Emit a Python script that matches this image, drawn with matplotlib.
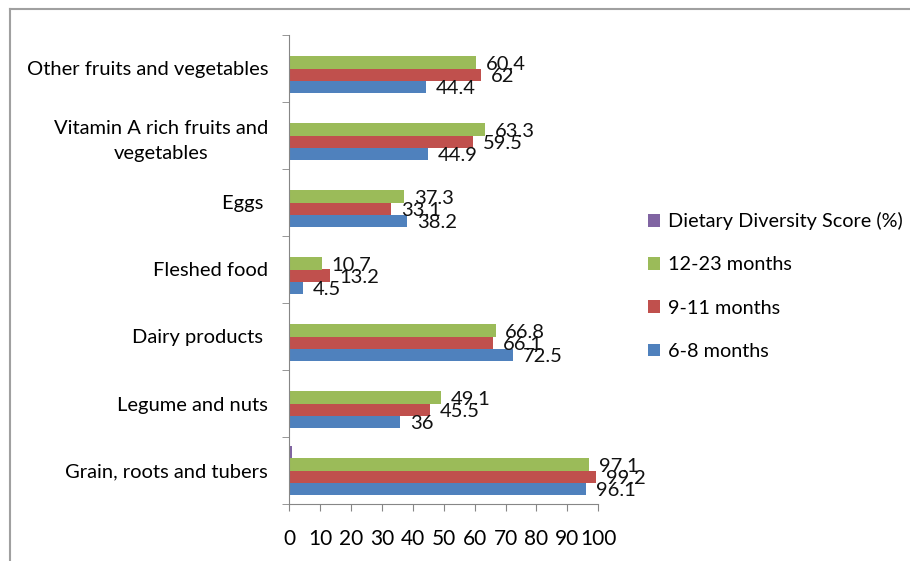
import matplotlib
matplotlib.use("Agg")
import matplotlib.pyplot as plt
from matplotlib.lines import Line2D
import numpy as np

# Categorias (de abajo hacia arriba)
categories = ["Grain, roots and tubers", "Legume and nuts", "Dairy products ",
              "Fleshed food", "Eggs ", "Vitamin A rich fruits and\nvegetables",
              "Other fruits and vegetables"]

m6_8 = [96.1, 36, 72.5, 4.5, 38.2, 44.9, 44.4]
m9_11 = [99.2, 45.5, 66.1, 13.2, 33.1, 59.5, 62]
m12_23 = [97.1, 49.1, 66.8, 10.7, 37.3, 63.3, 60.4]
dds = [0.9, 0, 0, 0, 0, 0, 0]

xticks = [0, 10, 20, 30, 40, 50, 60, 70, 80, 90, 100]

plt.rcParams['font.family'] = ['Lato', 'DejaVu Sans']

fig = plt.figure(figsize=(9.1, 5.61), dpi=100)
ax = fig.add_axes([289/910, 57/561, 309.3/910, 469/561])

y = np.arange(len(categories))
h = 0.18
series = [
    (m6_8, "6-8 months", "#4F81BD", -1.5, True),
    (m9_11, "9-11 months", "#C0504D", -0.5, True),
    (m12_23, "12-23 months", "#9BBB59", 0.5, True),
    (dds, "Dietary Diversity Score (%)", "#8064A2", 1.5, False),
]

handles = []
for vals, name, col, off, lab in series:
    bars = ax.barh(y + off*h, vals, height=h, color=col, label=name)
    handles.append(bars)
    if lab:
        for yy, v in zip(y + off*h, vals):
            ax.annotate(f"{v:g}", (v, yy), xytext=(7, -1.5), textcoords="offset points",
                        ha="left", va="center", fontsize=14.5, color="#111111")

ax.set_xlim(0, 100)
ax.set_ylim(-0.5, len(categories) - 0.5)
ax.set_xticks(xticks)
ax.set_yticks(y)
ax.set_yticklabels(categories, fontsize=14.5, ha="right", multialignment="center",
                   linespacing=1.55)
ax.set_yticks(np.arange(-0.5, len(categories)), minor=True)
ax.tick_params(axis='y', which='major', length=0, pad=15)
ax.tick_params(axis='y', which='minor', length=5, color="#868686")
ax.tick_params(axis='x', length=5, color="#868686", labelsize=15, pad=13)

for s in ["top", "right"]:
    ax.spines[s].set_visible(False)
for s in ["left", "bottom"]:
    ax.spines[s].set_color("#868686")

# Leyenda (orden inverso)
fig.legend(handles[::-1], [s[1] for s in series][::-1], loc="center left",
           bbox_to_anchor=(648/910, 1 - 286/561), frameon=False, fontsize=14.3,
           handlelength=0.6, handleheight=0.6, handletextpad=0.4,
           labelspacing=1.32, borderaxespad=0, borderpad=0)

# Marco exterior
fig.add_artist(Line2D([10/910, 10/910], [0, 1 - 9/561], color="#A0A0A0", lw=1.5))
fig.add_artist(Line2D([10/910, 1], [1 - 9/561, 1 - 9/561], color="#A0A0A0", lw=1.5))

plt.savefig("out.png", dpi=100)
